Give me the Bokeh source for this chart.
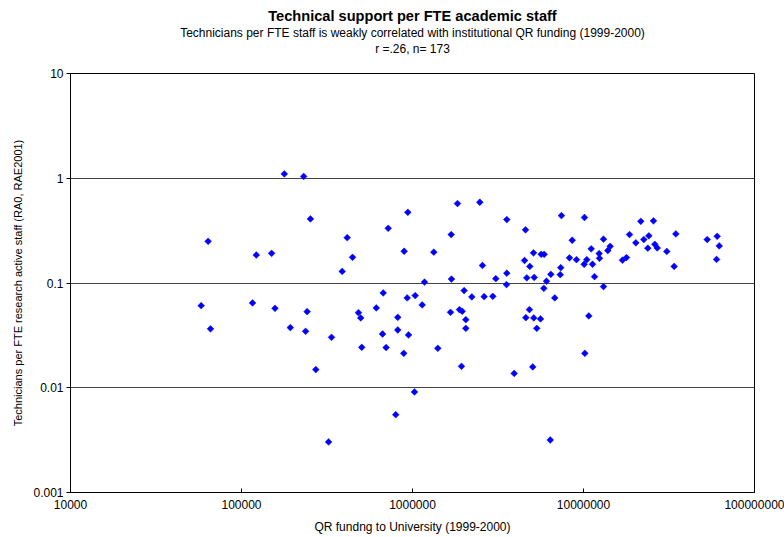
import math
from bokeh.plotting import figure
from bokeh.models import Range1d, FixedTicker, CustomJSTickFormatter, Title, ColumnDataSource
from bokeh.embed import file_html
from bokeh.resources import INLINE

# ---- data ----
title_main = "Technical support per FTE academic staff"
title_sub = "Technicians per FTE staff is weakly correlated with institutional QR funding (1999-2000)"
title_stat = "r =.26, n= 173"
x_label = "QR fundng to University (1999-2000)"
y_label = "Technicians per FTE research active staff (RA0, RAE2001)"

x_ticks = [1e4, 1e5, 1e6, 1e7, 1e8]
y_ticks = [0.001, 0.01, 0.1, 1, 10]

qr_funding = [
    178000, 63800, 122000, 150000, 58100, 116000, 157000, 65900, 193000,
    231000, 253000, 939000, 415000, 721000, 446000, 894000, 388000, 674000, 931000,
    242000, 483000, 498000, 614000, 820000, 237000, 336000, 668000, 820000, 948000,
    505000, 701000, 889000, 272000, 798000, 323000,
    1832000, 2475000, 3560000, 1684000, 1332000, 2565000, 1175000, 1690000, 3070000, 3560000,
    3545000, 1037000, 1139000, 2004000, 2223000, 2624000, 2949000, 1668000, 1883000, 1953000,
    2050000, 2050000, 1406000, 1934000, 3933000, 1027000,
    7430000, 10135000, 4580000, 8590000, 13090000, 18580000, 5100000, 5656000, 5890000, 11090000,
    12350000, 13870000, 14320000, 4520000, 4853000, 8280000, 9100000, 10450000, 10090000, 11290000,
    12400000, 16900000, 17840000, 4660000, 5150000, 6440000, 7360000, 7310000, 11600000, 6075000,
    5860000, 13090000, 6790000, 4830000, 4600000, 5120000, 5605000, 5330000, 10740000, 10180000,
    5050000, 6390000,
    21630000, 25650000, 20230000, 22520000, 24100000, 23770000, 26120000, 26980000, 30690000,
    34670000, 33900000, 52900000, 60500000, 62200000, 60000000,
]

technicians_per_fte = [
    1.10, 0.250, 0.185, 0.192, 0.0608, 0.0645, 0.0573, 0.0365, 0.0375,
    1.04, 0.409, 0.473, 0.271, 0.333, 0.176, 0.201, 0.129, 0.0804, 0.0721,
    0.0533, 0.0521, 0.0464, 0.0578, 0.0470, 0.0346, 0.0303, 0.0326, 0.0356, 0.0319,
    0.0243, 0.0242, 0.0213, 0.0149, 0.00553, 0.00304,
    0.573, 0.590, 0.403, 0.290, 0.197, 0.147, 0.102, 0.109, 0.110, 0.124,
    0.0965, 0.0758, 0.0618, 0.0846, 0.0737, 0.0741, 0.0746, 0.0525, 0.0557, 0.0537,
    0.0447, 0.0369, 0.0238, 0.0160, 0.0137, 0.00912,
    0.440, 0.422, 0.322, 0.256, 0.262, 0.290, 0.194, 0.188, 0.188, 0.212,
    0.191, 0.204, 0.224, 0.164, 0.144, 0.174, 0.167, 0.167, 0.151, 0.151,
    0.172, 0.165, 0.175, 0.112, 0.113, 0.121, 0.140, 0.120, 0.115, 0.104,
    0.0890, 0.0924, 0.0721, 0.0557, 0.0467, 0.0464, 0.0454, 0.0369, 0.0485, 0.0213,
    0.0158, 0.00317,
    0.388, 0.392, 0.242, 0.260, 0.282, 0.215, 0.234, 0.216, 0.200,
    0.294, 0.144, 0.260, 0.279, 0.226, 0.168,
]

FONT = "Liberation Sans"

p = figure(width=784, height=537,
           x_axis_type="log", y_axis_type="log",
           x_range=Range1d(x_ticks[0], x_ticks[-1]),
           y_range=Range1d(y_ticks[0], y_ticks[-1]),
           output_backend="svg", toolbar_location=None,
           min_border_left=70, min_border_right=30,
           min_border_top=73, min_border_bottom=45)

p.background_fill_color = "white"
p.border_fill_color = "white"
p.outline_line_color = "black"
p.outline_line_width = 1
p.outline_line_alpha = 1

# titles (first added sits closest to the plot); an empty spacer first
p.add_layout(Title(text=" ", text_font_size="1px", standoff=15), "above")
p.add_layout(Title(text=title_stat, align="center", text_font=FONT,
                   text_font_size="12px", text_font_style="normal",
                   text_color="black", standoff=0), "above")
p.add_layout(Title(text=title_sub, align="center", text_font=FONT,
                   text_font_size="12px", text_font_style="normal",
                   text_color="black", standoff=0), "above")
p.add_layout(Title(text=title_main, align="center", text_font=FONT,
                   text_font_size="14.6px", text_font_style="bold",
                   text_color="black", standoff=0), "above")

fmt = CustomJSTickFormatter(code="return String(Number(tick.toPrecision(6)))")

xt = FixedTicker(ticks=x_ticks)
yt = FixedTicker(ticks=y_ticks)
p.xaxis.ticker = xt
p.yaxis.ticker = yt
p.ygrid.ticker = yt
p.xaxis.formatter = fmt
p.yaxis.formatter = fmt

p.xgrid.visible = False
p.ygrid.grid_line_color = "#444444"
p.ygrid.grid_line_width = 1

for ax in (p.xaxis, p.yaxis):
    ax.axis_line_color = "black"
    ax.axis_line_width = 1
    ax.major_tick_line_color = "black"
    ax.minor_tick_line_color = None
    ax.major_label_text_font = FONT
    ax.major_label_text_font_size = "12px"
    ax.major_label_text_color = "black"
    ax.axis_label_text_font = FONT
    ax.axis_label_text_font_size = "12px"
    ax.axis_label_text_font_style = "normal"
    ax.axis_label_text_color = "black"

p.yaxis.axis_label_text_font_size = "11px"

p.xaxis.major_tick_in = 4
p.xaxis.major_tick_out = 0
p.xaxis.major_label_standoff = 7
p.xaxis.axis_label = x_label
p.xaxis.axis_label_standoff = 8

p.yaxis.major_tick_in = 0
p.yaxis.major_tick_out = 4
p.yaxis.major_label_standoff = 3
p.yaxis.axis_label = y_label
p.yaxis.axis_label_standoff = 6

src = ColumnDataSource(data=dict(x=qr_funding, y=technicians_per_fte))
p.scatter("x", "y", source=src, marker="square", size=4.8, angle=math.pi / 4,
          fill_color="#0000FF", line_color="#0000FF", line_width=0.5)

open("out.html", "w").write(file_html(p, INLINE))
